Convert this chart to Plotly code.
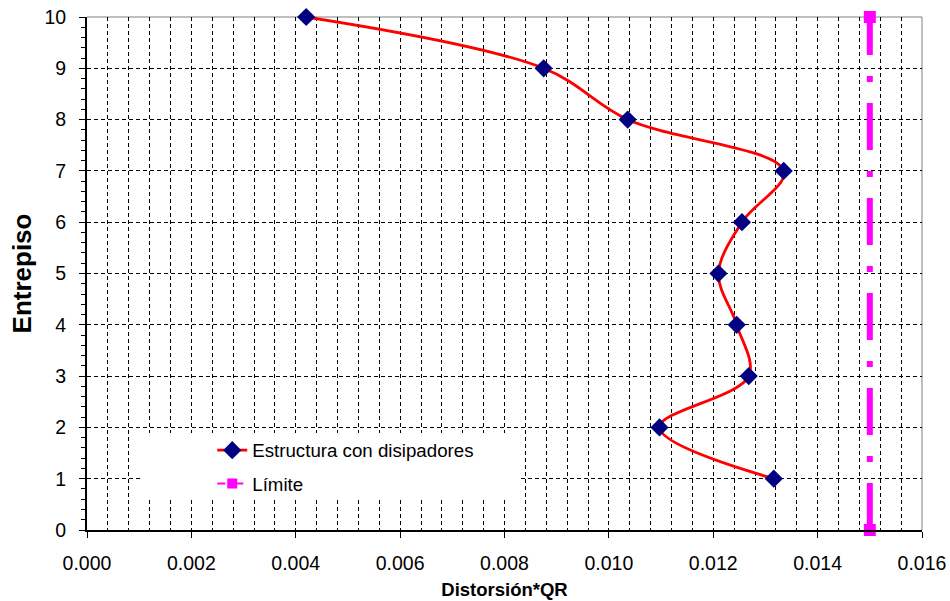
import plotly.graph_objects as go

# ---- data ----
entrepiso = [1, 2, 3, 4, 5, 6, 7, 8, 9, 10]
distorsion = [0.01316, 0.01097, 0.01268, 0.01245, 0.01210, 0.01255, 0.01335, 0.01036, 0.00875, 0.00420]
limite_x = [0.015, 0.015]
limite_y = [0, 10]
x_ticks = [0.000, 0.002, 0.004, 0.006, 0.008, 0.010, 0.012, 0.014, 0.016]
y_ticks = [0, 1, 2, 3, 4, 5, 6, 7, 8, 9, 10]
serie_nombre = "Estructura con disipadores"
limite_nombre = "Límite"
x_title = "Distorsión*QR"
y_title = "Entrepiso"

FONT = "Liberation Sans, Arial, sans-serif"

fig = go.Figure()
fig.add_trace(go.Scatter(
    x=distorsion, y=entrepiso, name=serie_nombre, mode="lines+markers",
    line=dict(color="#FF0000", width=2.8, shape="spline", smoothing=1),
    marker=dict(symbol="diamond", size=14, color="#000080"),
    legendgroup="a", cliponaxis=False,
))
fig.add_trace(go.Scatter(
    x=limite_x, y=limite_y, name=limite_nombre, mode="lines+markers",
    line=dict(color="#FF00FF", width=6, dash="47px,21px,6px,21px"),
    marker=dict(symbol="square", size=12, color="#FF00FF"),
    legendgroup="b", cliponaxis=False, showlegend=False,
))
# legend entry for the limit line (thin dash-dot as in the legend of the original)
fig.add_trace(go.Scatter(
    x=[None], y=[None], name=limite_nombre, mode="lines+markers",
    line=dict(color="#FF00FF", width=2, dash="8px,4px,2px,4px"),
    marker=dict(symbol="square", size=10, color="#FF00FF"),
    legendgroup="b",
))

grid = dict(gridcolor="#000000", gridwidth=1, griddash="4px,3px")

fig.update_xaxes(
    range=[0, 0.016], tickvals=x_ticks, tickformat=".3f", automargin=False,
    showline=True, linecolor="#000000", linewidth=2,
    ticks="outside", ticklen=6, tickcolor="#000000", tickwidth=1,
    showgrid=True, **grid, zeroline=False,
    minor=dict(dtick=0.0004, showgrid=True, gridcolor="#000000", gridwidth=1,
               griddash="4px,3px", ticks=""),
    tickfont=dict(family=FONT, size=19.5, color="#000000"),
    ticklabelstandoff=9,
    title=dict(text=x_title, font=dict(family=FONT, size=18.5, color="#000000", weight="bold"),
               standoff=10),
)
fig.update_yaxes(
    range=[0, 10], tickvals=y_ticks, automargin=False,
    showline=True, linecolor="#000000", linewidth=2,
    ticks="outside", ticklen=6, tickcolor="#000000", tickwidth=1,
    showgrid=True, **grid, zeroline=False,
    minor=dict(dtick=0.2, showgrid=False, ticks="outside", ticklen=4, tickcolor="#000000"),
    tickfont=dict(family=FONT, size=19.5, color="#000000"),
    ticklabelstandoff=9,
    title=dict(text=y_title, font=dict(family=FONT, size=26, color="#000000", weight="bold"),
               standoff=5),
)

fig.add_shape(type="rect", xref="x", yref="y", x0=0.00102, x1=0.00831, y0=0.585, y1=1.89,
              fillcolor="#FFFFFF", line=dict(width=0), layer="between")
fig.add_shape(type="line", xref="paper", yref="paper", x0=0, x1=1, y0=1, y1=1,
              line=dict(color="#808080", width=1), layer="between")
fig.add_shape(type="line", xref="paper", yref="paper", x0=1, x1=1, y0=0, y1=1,
              line=dict(color="#808080", width=1), layer="between")

fig.update_layout(
    width=950, height=601,
    margin=dict(l=87, r=28, t=17, b=71),
    paper_bgcolor="#FFFFFF", plot_bgcolor="#FFFFFF",
    font=dict(family=FONT, color="#000000"),
    legend=dict(x=0.15, y=0.192, xanchor="left", yanchor="top",
                bgcolor="rgba(0,0,0,0)", borderwidth=0,
                font=dict(family=FONT, size=18.7, color="#000000"),
                traceorder="grouped", tracegroupgap=6),
    showlegend=True,
)

fig.write_html(
    "out.html",
    config={"displayModeBar": False},
    post_script="document.body.style.margin='0';document.body.style.padding='0';document.body.style.overflow='hidden';",
)
